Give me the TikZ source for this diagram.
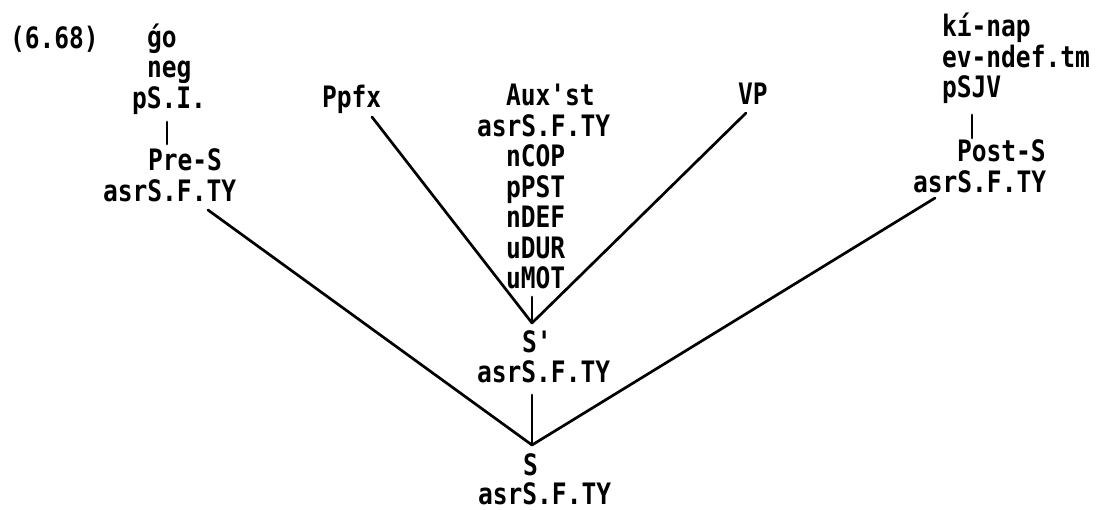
\documentclass[tikz,border=0pt]{standalone}
\usepackage{fontspec}
\setmonofont[FakeStretch=0.833]{DejaVu Sans Mono}
\begin{document}
\begin{tikzpicture}[x=1pt,y=-1pt,
  txt/.style={anchor=base west, inner sep=0pt, outer sep=0pt, font=\ttfamily\bfseries\fontsize{29.5}{30.5}\selectfont},
  ln/.style={line width=2.7pt, line cap=round}]
\useasboundingbox (0,0) rectangle (1100,509);
% left block
\node[txt] (num) at (10,48) {(6.68)};
\node[txt] (go) at (147,47) {ǵo};
\node[txt] (neg) at (147,77) {neg};
\node[txt] (psi) at (132,108) {pS.I.};
\node[txt] (pres) at (148,170) {Pre-S};
\node[txt] (presf) at (103,201) {asrS.F.TY};
% middle block
\node[txt] (ppfx) at (322,107) {Ppfx};
\node[txt] (aux) at (506,105) {Aux'st};
\node[txt] (auxf) at (477,136) {asrS.F.TY};
\node[txt] (ncop) at (506,166) {nCOP};
\node[txt] (ppst) at (506,197) {pPST};
\node[txt] (ndef) at (506,227) {nDEF};
\node[txt] (udur) at (506,258) {uDUR};
\node[txt] (umot) at (506,288) {uMOT};
\node[txt] (vp) at (738,104) {VP};
\node[txt] (sp) at (522,352) {S'};
\node[txt] (spf) at (477,382) {asrS.F.TY};
\node[txt] (s) at (523,475) {S};
\node[txt] (sf) at (478,504) {asrS.F.TY};
% right block
\node[txt] (kinap) at (942,36) {kí-nap};
\node[txt] (evn) at (942,67) {ev-ndef.tm};
\node[txt] (psjv) at (942,97) {pSJV};
\node[txt] (posts) at (957,161) {Post-S};
\node[txt] (postf) at (913,192) {asrS.F.TY};
% connector end points
\coordinate (lpT) at (167,122); \coordinate (lpB) at (167,144);
\coordinate (rpT) at (972,115); \coordinate (rpB) at (972,138);
\coordinate (lV) at (208,210);
\coordinate (rV) at (935,198);
\coordinate (apexS) at (532,445);
\coordinate (pT) at (372,117);
\coordinate (vT) at (746,113);
\coordinate (apexSp) at (532,323);
\coordinate (mT) at (532,297);
\coordinate (sT) at (532,395); \coordinate (sB) at (532,443);
% connectors
\draw[ln] (lpT) -- (lpB);
\draw[ln] (rpT) -- (rpB);
\draw[ln] (lV) -- (apexS);
\draw[ln] (rV) -- (apexS);
\draw[ln] (pT) -- (apexSp);
\draw[ln] (vT) -- (apexSp);
\draw[ln] (mT) -- (apexSp);
\draw[ln] (sT) -- (sB);
\end{tikzpicture}
\end{document}
